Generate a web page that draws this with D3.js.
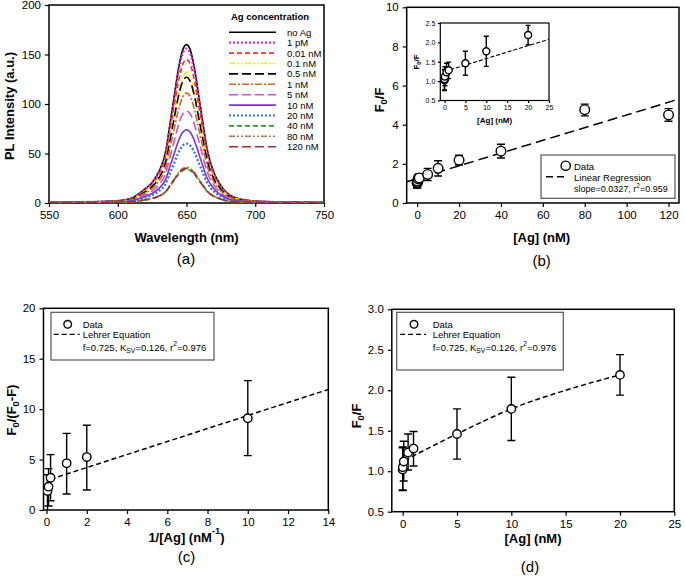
<!DOCTYPE html>
<html><head><meta charset="utf-8">
<script src="https://cdn.jsdelivr.net/npm/d3@7"></script>
<style>body{margin:0;background:#fff} svg{display:block} text{font-family:"Liberation Sans",Arial,sans-serif;fill:#000}</style>
</head><body><svg id="c" width="685" height="576"></svg>
<script>
// ---------- DATA ----------
// (a) PL spectra
const wavelengths = [550,580,600,610,620,625,630,635,638,641,644,647,650,653,656,659,662,665,670,675,680,690,700,720,750];
const seriesNames = ["no Ag","1 pM","0.01 nM","0.1 nM","0.5 nM","1 nM","5 nM","10 nM","20 nM","40 nM","80 nM","120 nM"];
const pl_noAg  = [0.6,1.1,2.2,4.8,14.4,20.8,32,52.8,80,107.2,134.4,153.6,160,153.6,134.4,107.2,80,54.4,30.4,17.6,9.6,3.8,1.9,1.0,0.6];
const pl_1pM   = [0.6,1.1,2.2,4.7,14,20.3,31.2,51.5,78,104.5,131,149.8,156,149.8,131,104.5,78,53,29.6,17.2,9.4,3.7,1.9,0.9,0.6];
const pl_001nM = [0.6,1.0,2.0,4.4,13.1,18.9,29,47.9,72.5,97.2,121.8,139.2,145,139.2,121.8,97.2,72.5,49.3,27.6,16,8.7,3.5,1.7,0.9,0.6];
const pl_01nM  = [0.5,0.9,1.8,4.0,11.9,17.2,26.4,43.6,66,88.4,110.9,126.7,132,126.7,110.9,88.4,66,44.9,25.1,14.5,7.9,3.2,1.6,0.8,0.5];
const pl_05nM  = [0.5,0.9,1.8,3.8,11.4,16.5,25.4,41.9,63.5,85.1,106.7,121.9,127,121.9,106.7,85.1,63.5,43.2,24.1,14,7.6,3.0,1.5,0.8,0.5];
const pl_1nM   = [0.4,0.8,1.6,3.3,10,14.4,22.2,36.6,55.5,74.4,93.2,106.6,111,106.6,93.2,74.4,55.5,37.7,21.1,12.2,6.7,2.7,1.3,0.7,0.4];
const pl_5nM   = [0.4,0.7,1.3,2.8,8.4,12.1,18.6,30.7,46.5,62.3,78.1,89.3,93,89.3,78.1,62.3,46.5,31.6,17.7,10.2,5.6,2.2,1.1,0.6,0.4];
const pl_10nM  = [0.3,0.5,1.0,2.2,6.7,9.6,14.8,24.4,37,49.6,62.2,71,74,71,62.2,49.6,37,25.2,14.1,8.1,4.4,1.8,0.9,0.4,0.3];
const pl_20nM  = [0.2,0.4,0.8,1.8,5.4,7.8,12,19.8,30,40.2,50.4,57.6,60,57.6,50.4,40.2,30,20.4,11.4,6.6,3.6,1.4,0.7,0.4,0.2];
const pl_40nM  = [0.1,0.2,0.5,1.0,3.1,4.4,6.8,11.2,17,22.8,28.6,32.6,34,32.6,28.6,22.8,17,11.6,6.5,3.7,2.0,0.8,0.4,0.2,0.1];
const pl_80nM  = [0.1,0.3,0.5,1.1,3.2,4.7,7.2,11.9,18,24.1,30.2,34.6,36,34.6,30.2,24.1,18,12.2,6.8,4.0,2.2,0.9,0.4,0.2,0.1];
const pl_120nM = [0.1,0.2,0.5,1.1,3.2,4.6,7,11.6,17.5,23.5,29.4,33.6,35,33.6,29.4,23.5,17.5,11.9,6.7,3.9,2.1,0.8,0.4,0.2,0.1];
const aXTicks = [550,600,650,700,750];
const aYTicks = [0,50,100,150,200];

// (b) Stern-Volmer
const agConc   = [0.001,0.01,0.1,0.5,1,5,10,20,40,80,120];
const f0f      = [1.02,1.05,1.12,1.23,1.28,1.46,1.77,2.19,2.65,4.77,4.50];
const f0fLo    = [0.76,0.77,0.88,1.015,1.065,1.15,1.38,1.94,2.30,4.45,4.18];
const f0fHi    = [1.29,1.30,1.37,1.46,1.49,1.77,2.16,2.44,3.00,5.05,4.82];
const linRegX  = [-5,125];
const linRegY  = [1.09,5.31];
const insetRegX = [0,25];
const insetRegY = [1.25,2.08];
const bXTicks = [0,20,40,60,80,100,120];
const bYTicks = [0,2,4,6,8,10];
const insetXTicks = [0,5,10,15,20,25];
const insetYTicks = [0.5,1.0,1.5,2.0,2.5];

// (c) Lehrer plot
const invAg   = [0.05,0.1,0.2,1,2,10];
const lehrY   = [1.88,2.31,3.2,4.63,5.25,9.1];
const lehrLo  = [-0.15,0.4,0.92,1.59,1.98,5.39];
const lehrHi  = [3.5,4.1,5.49,7.6,8.4,12.83];
const lehrFitX = [0.2,14];
const lehrFitY = [3.05,11.95];
const cXTicks = [0,2,4,6,8,10,12,14];
const cYTicks = [0,5,10,15,20];

// (d) Lehrer fit on F0/F
const dCount = 8; // first 8 concentrations (0.001 .. 20 nM)
const dFitX = [0.2,1,2,5,10,15,20];
const dFitY = [1.13,1.19,1.26,1.46,1.77,2.0,2.19];
const dXTicks = [0,5,10,15,20,25];
const dYTicks = [0.5,1.0,1.5,2.0,2.5,3.0];

// ---------- STYLES ----------
const plSeries = [pl_noAg,pl_1pM,pl_001nM,pl_01nM,pl_05nM,pl_1nM,pl_5nM,pl_10nM,pl_20nM,pl_40nM,pl_80nM,pl_120nM];
const plColors = ["#000000","#d62bd6","#ff2a2a","#f2f200","#000000","#d2691e","#d44fd4","#7b35c8","#2a72d8","#28a028","#a8764e","#9e3030"];
const plDash   = [null,"2,2","5,3","6,2,2,2,2,2","9,4","7,2,2,2","9,4",null,"2,2","5,3","6,2,2,2,2,2","9,4"];
const plWidth  = [1.6,2.2,1.6,1.6,1.6,1.6,1.6,1.6,2.2,1.6,1.6,1.6];

// ---------- DRAW ----------
const svg = d3.select("#c");
svg.append("rect").attr("width",685).attr("height",576).attr("fill","#fff");

function panel(xDom, xRng, yDom, yRng, xt, yt, opt) {
  const x = d3.scaleLinear().domain(xDom).range(xRng);
  const y = d3.scaleLinear().domain(yDom).range(yRng);
  const g = svg.append("g");
  const fs = opt.fs || 11;
  const ax = g.append("g").attr("transform",`translate(0,${yRng[0]})`)
    .call(d3.axisBottom(x).tickValues(xt).tickSize(opt.tick||4).tickSizeOuter(0).tickPadding(opt.pad||4).tickFormat(opt.xf||d3.format("d")));
  const ay = g.append("g").attr("transform",`translate(${xRng[0]},0)`)
    .call(d3.axisLeft(y).tickValues(yt).tickSize(opt.tick||4).tickSizeOuter(0).tickPadding(opt.pad||4).tickFormat(opt.yf||d3.format("d")));
  [ax,ay].forEach(a=>{
    a.select(".domain").remove();
    a.selectAll("line").attr("stroke","#000").attr("stroke-width",1.2);
    a.selectAll("text").attr("font-size",fs).attr("font-family","Liberation Sans, Arial, sans-serif").attr("fill","#222");
  });
  g.append("rect").attr("x",xRng[0]).attr("y",yRng[1]).attr("width",xRng[1]-xRng[0]).attr("height",yRng[0]-yRng[1])
    .attr("fill","none").attr("stroke","#000").attr("stroke-width",opt.frame||1.5);
  const id = "clip"+Math.random().toString(36).slice(2);
  svg.append("clipPath").attr("id",id).append("rect").attr("x",xRng[0]).attr("y",yRng[1]).attr("width",xRng[1]-xRng[0]).attr("height",yRng[0]-yRng[1]);
  const inner = svg.append("g").attr("clip-path",`url(#${id})`);
  return {x,y,g,inner};
}

// rich text: parts = [[text, "n"|"sub"|"sup"], ...]
function rich(sel, parts, fsz) {
  let shift = 0;
  parts.forEach(([t,k])=>{
    const target = k==="sub" ? 0.35 : k==="sup" ? -0.45 : 0;
    const ts = sel.append("tspan").text(t).attr("dy",((target-shift)*fsz).toFixed(2));
    if (k!=="n") ts.attr("font-size",fsz*0.72);
    shift = target;
  });
  return sel;
}

function errorPoints(p, xs, ys, lo, hi, r, cap) {
  const G = p.inner.append("g");
  xs.forEach((xv,i)=>{
    const cx = p.x(xv);
    G.append("line").attr("x1",cx).attr("x2",cx).attr("y1",p.y(lo[i])).attr("y2",p.y(hi[i])).attr("stroke","#000").attr("stroke-width",1.4);
    [lo[i],hi[i]].forEach(v=>G.append("line").attr("x1",cx-cap/2).attr("x2",cx+cap/2).attr("y1",p.y(v)).attr("y2",p.y(v)).attr("stroke","#000").attr("stroke-width",1.4));
  });
  xs.forEach((xv,i)=>{
    G.append("circle").attr("cx",p.x(xv)).attr("cy",p.y(ys[i])).attr("r",r).attr("fill","#fff").attr("stroke","#000").attr("stroke-width",1.4);
  });
}

function subLabel(txt, x, y) {
  svg.append("text").attr("x",x).attr("y",y).attr("text-anchor","middle").attr("dominant-baseline","central")
    .attr("font-family","Open Sans, Noto Sans, sans-serif").attr("font-size",15).attr("fill","#333").text(txt);
}

// ===== Panel (a) =====
const A = panel([550,750],[49,324],[0,200],[203,5],aXTicks,aYTicks,{fs:11.5});
const lineA = d3.line().x((d,i)=>A.x(wavelengths[i])).y(d=>A.y(d)).curve(d3.curveMonotoneX);
plSeries.forEach((s,k)=>{
  A.inner.append("path").attr("d",lineA(s)).attr("fill","none").attr("stroke",plColors[k])
    .attr("stroke-width",plWidth[k]).attr("stroke-dasharray",plDash[k]);
});
svg.append("text").attr("x",186.5).attr("y",237).attr("text-anchor","middle").attr("dominant-baseline","central")
  .attr("font-weight","bold").attr("font-size",13).text("Wavelength (nm)");
svg.append("text").attr("transform","translate(9,106) rotate(-90)").attr("text-anchor","middle").attr("dominant-baseline","central")
  .attr("font-weight","bold").attr("font-size",13).text("PL Intensity (a.u.)");
svg.append("text").attr("x",231).attr("y",16).attr("dominant-baseline","central").attr("font-weight","bold").attr("font-size",9.5).text("Ag concentration");
seriesNames.forEach((n,k)=>{
  const yy = 32.3 + k*10.4;
  svg.append("line").attr("x1",229).attr("x2",276).attr("y1",yy).attr("y2",yy).attr("stroke",plColors[k])
    .attr("stroke-width",plWidth[k]).attr("stroke-dasharray",plDash[k]);
  svg.append("text").attr("x",287).attr("y",yy).attr("dominant-baseline","central").attr("font-size",9.5).text(n);
});
subLabel("(a)",186,258);

// ===== Panel (b) =====
const B = panel([-5,125],[406.7,679],[0,10],[203,7.3],bXTicks,bYTicks,{fs:11.5});
B.inner.append("path").attr("d",d3.line()(linRegX.map((v,i)=>[B.x(v),B.y(linRegY[i])])))
  .attr("stroke","#000").attr("stroke-width",1.5).attr("stroke-dasharray","10,5").attr("fill","none");
errorPoints(B, agConc, f0f, f0fLo, f0fHi, 4.8, 8);
svg.append("text").attr("x",541.7).attr("y",237.5).attr("text-anchor","middle").attr("dominant-baseline","central")
  .attr("font-weight","bold").attr("font-size",13).text("[Ag] (nM)");
rich(svg.append("text").attr("transform","translate(379,100) rotate(-90)").attr("text-anchor","middle").attr("dominant-baseline","central")
  .attr("font-weight","bold").attr("font-size",13),[["F","n"],["0","sub"],["/F","n"]],13);
// legend (b)
svg.append("rect").attr("x",541).attr("y",155).attr("width",134).attr("height",43.3).attr("fill","#fff").attr("stroke","#555").attr("stroke-width",1.2);
svg.append("circle").attr("cx",565.7).attr("cy",165.7).attr("r",4.6).attr("fill","#fff").attr("stroke","#000").attr("stroke-width",1.4);
svg.append("line").attr("x1",546).attr("x2",564).attr("y1",176.7).attr("y2",176.7).attr("stroke","#000").attr("stroke-width",1.5).attr("stroke-dasharray","7,4");
svg.append("text").attr("x",574).attr("y",166).attr("dominant-baseline","central").attr("font-size",9.5).text("Data");
svg.append("text").attr("x",574).attr("y",177).attr("dominant-baseline","central").attr("font-size",9.5).text("Linear Regression");
rich(svg.append("text").attr("x",574).attr("y",189).attr("dominant-baseline","central").attr("font-size",9),
  [["slope=0.0327, r","n"],["2","sup"],["=0.959","n"]],9);
subLabel("(b)",541.7,260);

// inset
svg.append("rect").attr("x",440.3).attr("y",23).attr("width",108.7).attr("height",77.5).attr("fill","#fff");
const I = panel([-1,25],[440.3,549],[0.5,2.5],[100.5,23],insetXTicks,insetYTicks,{fs:7,tick:2.5,pad:2.5,frame:1.2,yf:d3.format(".1f")});
I.inner.append("path").attr("d",d3.line()(insetRegX.map((v,i)=>[I.x(v),I.y(insetRegY[i])])))
  .attr("stroke","#000").attr("stroke-width",1.1).attr("stroke-dasharray","4,2").attr("fill","none");
errorPoints(I, agConc.slice(0,8), f0f.slice(0,8), f0fLo.slice(0,8), f0fHi.slice(0,8), 3.5, 5);
svg.append("text").attr("x",494.6).attr("y",120).attr("text-anchor","middle").attr("dominant-baseline","central")
  .attr("font-weight","bold").attr("font-size",8).text("[Ag] (nM)");
rich(svg.append("text").attr("transform","translate(416,62) rotate(-90)").attr("text-anchor","middle").attr("dominant-baseline","central")
  .attr("font-weight","bold").attr("font-size",8),[["F","n"],["0","sub"],["/F","n"]],8);

// ===== Panel (c) =====
const C = panel([-0.15,14],[43.5,328.3],[0,20],[510,308.3],cXTicks,cYTicks,{fs:11.5});
C.inner.append("path").attr("d",d3.line()(lehrFitX.map((v,i)=>[C.x(v),C.y(lehrFitY[i])])))
  .attr("stroke","#000").attr("stroke-width",1.5).attr("stroke-dasharray","5,3").attr("fill","none");
errorPoints(C, invAg, lehrY, lehrLo, lehrHi, 4.2, 8);
rich(svg.append("text").attr("x",186.5).attr("y",536.7).attr("text-anchor","middle").attr("dominant-baseline","central")
  .attr("font-weight","bold").attr("font-size",13),[["1/[Ag] (nM","n"],["-1","sup"],[")","n"]],13);
rich(svg.append("text").attr("transform","translate(11,410) rotate(-90)").attr("text-anchor","middle").attr("dominant-baseline","central")
  .attr("font-weight","bold").attr("font-size",13),[["F","n"],["0","sub"],["/(F","n"],["0","sub"],["-F)","n"]],13);
function lehrerLegend(x0, y0, w, h, cx, tx) {
  svg.append("rect").attr("x",x0).attr("y",y0).attr("width",w).attr("height",h).attr("fill","#fff").attr("stroke","#555").attr("stroke-width",1.2);
  svg.append("circle").attr("cx",cx).attr("cy",y0+12).attr("r",3.8).attr("fill","#fff").attr("stroke","#000").attr("stroke-width",1.4);
  svg.append("line").attr("x1",cx-3-11).attr("x2",cx+12).attr("y1",y0+22).attr("y2",y0+22).attr("stroke","#000").attr("stroke-width",1.3).attr("stroke-dasharray","5,3");
  svg.append("text").attr("x",tx).attr("y",y0+12).attr("dominant-baseline","central").attr("font-size",9.5).text("Data");
  svg.append("text").attr("x",tx).attr("y",y0+22.5).attr("dominant-baseline","central").attr("font-size",9.5).text("Lehrer Equation");
  rich(svg.append("text").attr("x",tx).attr("y",y0+34.5).attr("dominant-baseline","central").attr("font-size",9.5),
    [["f=0.725, K","n"],["SV","sub"],["=0.126, r","n"],["2","sup"],["=0.976","n"]],9.5);
}
lehrerLegend(51,312.3,163,47.7,67.7,82.7);
subLabel("(c)",186.5,556.7);

// ===== Panel (d) =====
const D = panel([-1,25],[391.8,674.3],[0.5,3.0],[511.7,309.3],dXTicks,dYTicks,{fs:11.5,yf:d3.format(".1f")});
D.inner.append("path").attr("d",d3.line().curve(d3.curveMonotoneX)(dFitX.map((v,i)=>[D.x(v),D.y(dFitY[i])])))
  .attr("stroke","#000").attr("stroke-width",1.5).attr("stroke-dasharray","5,3").attr("fill","none");
errorPoints(D, agConc.slice(0,dCount), f0f.slice(0,dCount), f0fLo.slice(0,dCount), f0fHi.slice(0,dCount), 4.2, 8);
lehrerLegend(396.7,312.3,166.6,57.7,414,432.7);
svg.append("text").attr("x",533).attr("y",538).attr("text-anchor","middle").attr("dominant-baseline","central")
  .attr("font-weight","bold").attr("font-size",13).text("[Ag] (nM)");
rich(svg.append("text").attr("transform","translate(356,416) rotate(-90)").attr("text-anchor","middle").attr("dominant-baseline","central")
  .attr("font-weight","bold").attr("font-size",13),[["F","n"],["0","sub"],["/F","n"]],13);
subLabel("(d)",530,566.7);
</script></body></html>
